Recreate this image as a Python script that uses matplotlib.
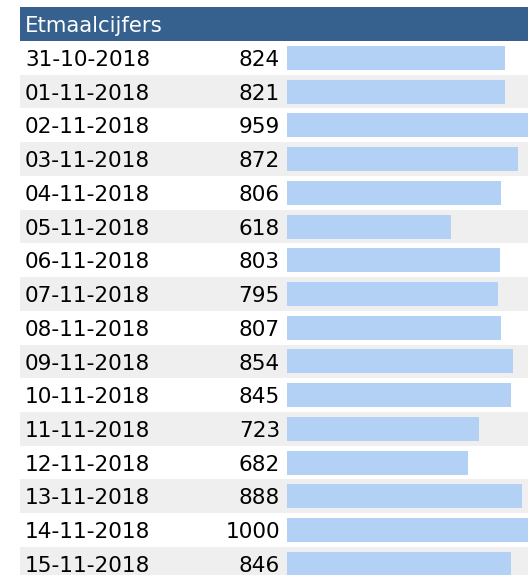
import matplotlib.pyplot as plt
from matplotlib.patches import Rectangle

dates = ['31-10-2018', '01-11-2018', '02-11-2018', '03-11-2018', '04-11-2018',
         '05-11-2018', '06-11-2018', '07-11-2018', '08-11-2018', '09-11-2018',
         '10-11-2018', '11-11-2018', '12-11-2018', '13-11-2018', '14-11-2018',
         '15-11-2018']
values = [824, 821, 959, 872, 806, 618, 803, 795, 807, 854, 845, 723, 682, 888, 1000, 846]
title = 'Etmaalcijfers'

W, H = 528, 575
row_h = 33.73
top = 41
fs = 15.6

fig = plt.figure(figsize=(W / 100, H / 100), dpi=100)
ax = fig.add_axes([0, 0, 1, 1])
ax.set_xlim(0, W)
ax.set_ylim(H, 0)
ax.axis('off')

# header
ax.add_patch(Rectangle((20, 7), W - 20, top - 7, color='#36618f', lw=0))
ax.text(25, 32, title, color='white', fontsize=fs - 0.3, va='baseline', ha='left')

centers = [top + (i + 0.5) * row_h for i in range(len(dates))]
for i, (d, v) in enumerate(zip(dates, values)):
    y0 = top + i * row_h
    if i % 2 == 1:
        ax.add_patch(Rectangle((20, y0), W - 20, row_h, color='#efefef', lw=0, zorder=0))
    ax.text(25, centers[i] + 8.1, d, fontsize=fs, va='baseline', ha='left', color='black')
    ax.text(280, centers[i] + 8.1, str(v), fontsize=fs, va='baseline', ha='right', color='black')

# bars on their own axes (0..1000 scale, wider than the figure -> clipped)
bx = fig.add_axes([287 / W, 0, 265 / W, 1])
bx.set_xlim(0, 1000)
bx.set_ylim(H, 0)
bx.axis('off')
bx.patch.set_alpha(0)
bx.barh(centers, values, height=24, color='#b3d0f5', left=0)

plt.savefig('out.png', dpi=100)
